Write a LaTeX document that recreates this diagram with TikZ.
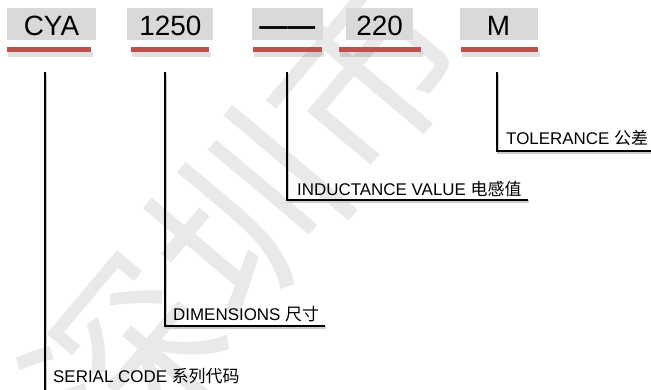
\documentclass[tikz,border=0pt]{standalone}
\usepackage{fontspec}
\setmainfont{Liberation Sans}
\newfontfamily\cjk{Noto Sans CJK SC}
\usetikzlibrary{positioning}
\definecolor{mred}{RGB}{192, 80, 77}
\definecolor{mgray}{RGB}{217, 217, 217}
\definecolor{mmark}{RGB}{233, 233, 233}
\tikzset{codebox/.style = {fill = mgray, inner xsep = 0, inner ysep = 0, text height = 27bp, text depth = 5bp, font = \fontsize{28}{32}\selectfont}}
\tikzset{leader/.style = {line width = 2.5bp, preaction = {draw, black!20, line width = 2.5bp, transform canvas = {shift = {(1bp, -1.5bp)}}}}}
\tikzset{lab/.style = {anchor = base west, inner sep = 0, font = \fontsize{17}{20}\selectfont}}

\begin{document}
\begin{tikzpicture}[x = 1bp, y = -1bp]
      \useasboundingbox (0, 0) rectangle (651, 389);
      \begin{scope}
        \clip (0, 0) rectangle (651, 389);
        \node [mmark, rotate = 50, font = \cjk\fontsize{186}{186}\selectfont] (mark) at (244, 216) {深圳市};
      \end{scope}

      \node [codebox, minimum width = 89bp] (cya) at (51.5, 24) {CYA};
      \node [codebox, minimum width = 86bp, right = 31bp of cya] (size) {1250};
      \node [codebox, minimum width = 71bp, right = 38bp of size] (dash) {\bfseries——};
      \node [codebox, minimum width = 67bp, right = 23bp of dash] (value) {220};
      \node [codebox, minimum width = 78bp, right = 46bp of value] (tol) {M};
      \foreach \a/\b in {7/91, 131/209, 253/322, 339/421, 461/538} {
        \fill [black, opacity = 0.12] (\a + 1, 52) rectangle (\b + 2, 57);
        \fill [mred] (\a, 47) rectangle (\b, 52);
      }

      \coordinate (serialtop) at (45, 72);
      \coordinate (dimtop) at (165, 72);
      \coordinate (indtop) at (287, 72);
      \coordinate (toltop) at (497, 72);
      \coordinate (serialend) at (45, 392);
      \coordinate (dimend) at (325, 326);
      \coordinate (indend) at (528, 200);
      \coordinate (tolend) at (655, 151);

      \node [lab] (serial) at (53, 382) {SERIAL CODE {\cjk 系列代码}};
      \node [lab] (dim) at (173, 320) {DIMENSIONS {\cjk 尺寸}};
      \node [lab] (ind) at (297, 195) {INDUCTANCE VALUE {\cjk 电感值}};
      \node [lab] (tolab) at (506, 144) {TOLERANCE {\cjk 公差}};

      \draw [leader] (serialtop) -- (serialend);
      \draw [leader] (dimtop) |- (dimend);
      \draw [leader] (indtop) |- (indend);
      \draw [leader] (toltop) |- (tolend);
    \end{tikzpicture}
\end{document}
